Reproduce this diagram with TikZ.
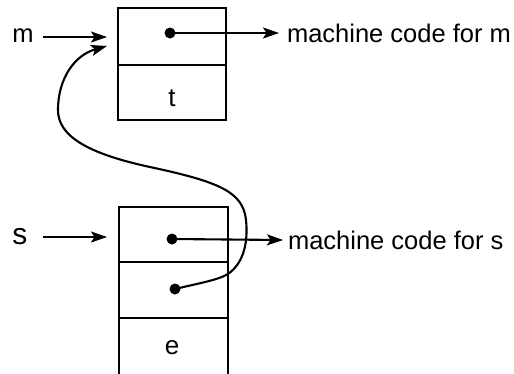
\documentclass[tikz,border=0pt]{standalone}
\usepackage{fontspec}
\setmainfont{Liberation Sans}
\usetikzlibrary{arrows.meta}
\begin{document}
\begin{tikzpicture}[x=1pt,y=-1pt,
  line width=2.1pt,
  arr/.style={-{Stealth[length=16pt,width=11pt,inset=3.5pt]}},
  lbl/.style={inner sep=0pt,font=\fontsize{25.5}{28}\selectfont},
  cell/.style={draw,line width=2.1pt},
  dotnode/.style={circle,fill,inner sep=0pt,minimum size=11pt}]
\useasboundingbox (0,0) rectangle (514,373);
% top record
\draw[cell] (118,8) rectangle (226,120);
\draw[cell] (118,65) -- (226,65);
\node[lbl,font=\fontsize{26}{28}\selectfont] (t) at (172,98) {t};
% bottom record
\draw[cell] (119,207) rectangle (228,390);
\draw[cell] (119,262) -- (228,262);
\draw[cell] (119,318) -- (228,318);
\node[lbl,font=\fontsize{26}{28}\selectfont] (e) at (172,348) {e};
% labels
\node[lbl,font=\fontsize{25.5}{28}\selectfont] (m) at (23,36) {m};
\node[lbl,font=\fontsize{30}{32}\selectfont] (s) at (20,237) {s};
\coordinate (ms) at (43,37);
\coordinate (mt) at (107,37);
\coordinate (ss) at (43,237);
\coordinate (st) at (107,237);
\draw[arr] (ms) -- (mt);
\draw[arr] (ss) -- (st);
% dots
\node[dotnode] (d1) at (170,33) {};
\node[dotnode] (d2) at (172,239) {};
\node[dotnode] (d3) at (175,289) {};
% code labels
\node[lbl,anchor=west] (cm) at (286,33) {machine code for m};
\node[lbl,anchor=west] (cs) at (287,240) {machine code for s};
\draw[arr] (d1.center) -- ([xshift=-7pt]cm.west);
\draw[arr] (d2.center) -- ([xshift=-4pt]cs.west);
% curved pointer
\coordinate (ct) at (107,46);
\draw[arr] (d3.center) .. controls (200,283) and (218,280) .. (228,274)
  .. controls (245,262) and (248,240) .. (246,220)
  .. controls (243,192) and (220,182) .. (150,167)
  .. controls (85,153) and (58,135) .. (58,110)
  .. controls (58,78) and (75,55) .. (ct);
\end{tikzpicture}
\end{document}
